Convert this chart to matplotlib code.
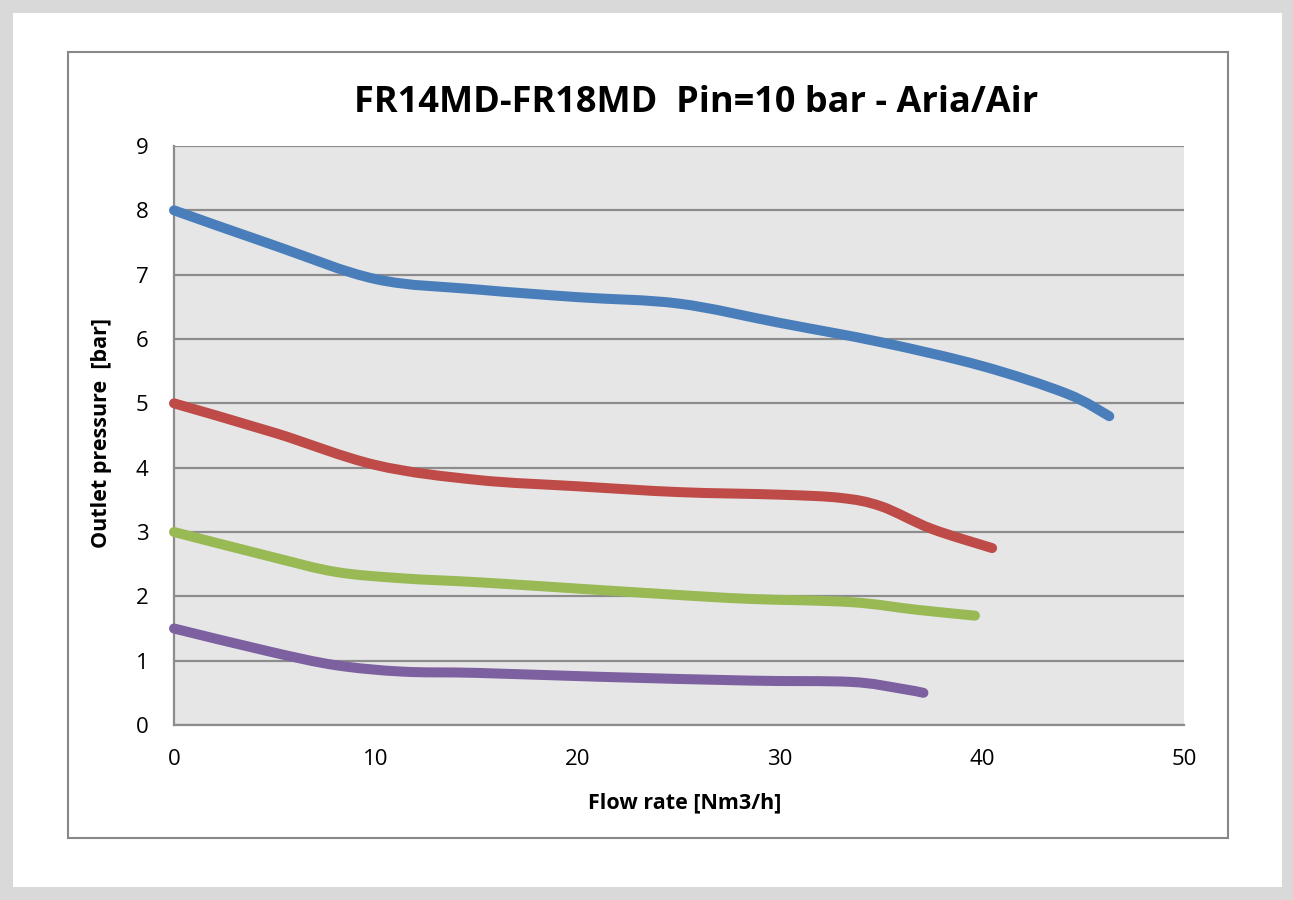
import matplotlib
matplotlib.use("Agg")
import matplotlib.pyplot as plt
from matplotlib.path import Path
from matplotlib.patches import PathPatch, Rectangle
import numpy as np

# Data
blue_x = [0, 5, 10, 15, 20, 25, 30, 35, 40, 44.2, 46.3]
blue_y = [8.0, 7.45, 6.93, 6.77, 6.65, 6.55, 6.25, 5.95, 5.58, 5.15, 4.80]
red_x = [0, 5, 10, 15, 20, 25, 30, 33, 35, 37.5, 40.5]
red_y = [5.0, 4.54, 4.04, 3.81, 3.71, 3.62, 3.58, 3.53, 3.40, 3.05, 2.75]
green_x = [0, 4.75, 8, 11.3, 15, 20, 25, 28.5, 33.5, 36.8, 39.65]
green_y = [3.0, 2.62, 2.38, 2.28, 2.22, 2.12, 2.02, 1.96, 1.91, 1.79, 1.70]
purple_x = [0, 4.75, 8, 11.3, 15, 21, 28.5, 33.5, 35.9, 37.1]
purple_y = [1.5, 1.14, 0.93, 0.83, 0.81, 0.75, 0.69, 0.67, 0.57, 0.50]

series = [
    (blue_x, blue_y, "#4a7ebb"),
    (red_x, red_y, "#be4b48"),
    (green_x, green_y, "#98b954"),
    (purple_x, purple_y, "#7d60a0"),
]

x_ticks = [0, 10, 20, 30, 40, 50]
y_ticks = [0, 1, 2, 3, 4, 5, 6, 7, 8, 9]

title = "FR14MD-FR18MD  Pin=10 bar - Aria/Air"
xlabel = "Flow rate [Nm3/h]"
ylabel = "Outlet pressure  [bar]"

W, H = 1293, 900
fig = plt.figure(figsize=(W / 100, H / 100), dpi=100)
fig.patch.set_facecolor("#d9d9d9")

# white inner area and chart frame
fig.patches.append(Rectangle((13 / W, 1 - 887 / H), (1282 - 13) / W, (887 - 13) / H,
                             transform=fig.transFigure, facecolor="white", edgecolor="none", zorder=-3))
fig.patches.append(Rectangle((68 / W, 1 - 838 / H), (1228 - 68) / W, (838 - 52) / H,
                             transform=fig.transFigure, facecolor="none", edgecolor="#888888",
                             linewidth=1.5, zorder=-2))

x0, x1, y0, y1 = 174, 1184, 146, 725
ax = fig.add_axes([x0 / W, 1 - y1 / H, (x1 - x0) / W, (y1 - y0) / H])
ax.set_zorder(2)
ax.set_facecolor("#e6e6e6")
ax.set_xlim(0, 50)
ax.set_ylim(0, 9)
ax.set_xticks(x_ticks)
ax.set_yticks(y_ticks)
ax.grid(axis="y", color="#8c8c8c", linewidth=1.6)
ax.set_axisbelow(True)
ax.spines["right"].set_visible(False)
ax.spines["top"].set_visible(False)
for s in ["left", "bottom"]:
    ax.spines[s].set_color("#8c8c8c")
    ax.spines[s].set_linewidth(1.6)
ax.tick_params(length=0, labelsize=16)
ax.tick_params(axis="x", pad=17)
ax.tick_params(axis="y", pad=18.5)
for lab in ax.get_xticklabels() + ax.get_yticklabels():
    lab.set_fontfamily("Open Sans")


def smooth_path(xs, ys):
    pts = np.column_stack([xs, ys]).astype(float)
    n = len(pts)
    verts = [pts[0]]
    codes = [Path.MOVETO]
    for i in range(n - 1):
        p0 = pts[i - 1] if i > 0 else pts[i]
        p1 = pts[i]
        p2 = pts[i + 1]
        p3 = pts[i + 2] if i + 2 < n else pts[i + 1]
        c1 = p1 + (p2 - p0) / 6.0
        c2 = p2 - (p3 - p1) / 6.0
        verts += [c1, c2, p2]
        codes += [Path.CURVE4] * 3
    return Path(verts, codes)


for xs, ys, c in series:
    patch = PathPatch(smooth_path(xs, ys), facecolor="none", edgecolor=c,
                      linewidth=7.2, capstyle="round", joinstyle="round", zorder=3,
                      clip_on=False)
    ax.add_patch(patch)

fig.text(696 / W, 1 - 103 / H, title, ha="center", va="center",
         fontsize=26, fontweight="bold", family="Open Sans")
fig.text(685 / W, 1 - 803 / H, xlabel, ha="center", va="center",
         fontsize=15.5, fontweight="bold", family="Open Sans")
fig.text(101 / W, 1 - 433 / H, ylabel, ha="center", va="center", rotation=90,
         fontsize=15.5, fontweight="bold", family="Open Sans")

fig.savefig("out.png", dpi=100, facecolor=fig.get_facecolor())
